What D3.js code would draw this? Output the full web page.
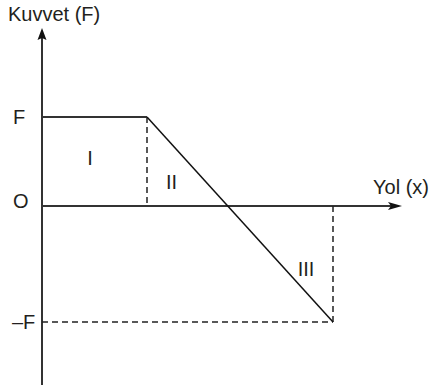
<!DOCTYPE html>
<html>
<head>
<meta charset="utf-8">
<script src="https://cdn.jsdelivr.net/npm/d3@7"></script>
<style>
  body { margin: 0; background: #fff; }
  svg text { font-family: "Liberation Sans", Arial, sans-serif; fill: #231f20; }
</style>
</head>
<body>
<div id="chart"></div>
<script>
// force levels (in units of F) and their labels on the vertical axis
const forceValues = [1, 0, -1];
const forceLabels = ["F", "O", "\u2013F"];

// the force-path: flat at F, then falling straight down to -F
const pathX = [0, 105, 291];
const pathF = [1, 1, -1];

// region names
const regionNames = ["I", "II", "III"];

let width = 431,
    height = 390;

const svg = d3.select("#chart")
  .append("svg")
  .attr("width", width)
  .attr("height", height);

let x = d3.scaleLinear()
  .domain([0, 360])
  .range([42, 402]);

// drawing is not symmetric around O, so the scale is piecewise
let y = d3.scaleLinear()
  .domain([-1, 0, 1])
  .range([322, 206, 117]);

const axisColor = "#333";
const yTop = 28, yBottom = 385;

// axes
svg.append("line")
  .attr("x1", x(0)).attr("x2", x(0))
  .attr("y1", yBottom).attr("y2", yTop + 6)
  .attr("stroke", axisColor).attr("stroke-width", 2);

svg.append("line")
  .attr("x1", x(0)).attr("x2", x(360) - 6)
  .attr("y1", y(0)).attr("y2", y(0))
  .attr("stroke", axisColor).attr("stroke-width", 2);

// arrow heads
svg.append("path")
  .attr("d", `M${x(0)},${yTop} L${x(0) + 4.5},${yTop + 12} L${x(0)},${yTop + 10} L${x(0) - 4.5},${yTop + 12} Z`)
  .attr("fill", "#111");

svg.append("path")
  .attr("d", `M${x(360)},${y(0)} L${x(360) - 14},${y(0) - 4} L${x(360) - 11},${y(0)} L${x(360) - 14},${y(0) + 4} Z`)
  .attr("fill", "#111");

// dashed guides
const guides = [
  [pathX[1], 1, pathX[1], 0],
  [pathX[2], 0, pathX[2], -1],
  [0, -1, pathX[2], -1]
];
svg.append("g")
  .selectAll("line")
  .data(guides)
  .join("line")
  .attr("x1", d => x(d[0])).attr("y1", d => y(d[1]))
  .attr("x2", d => x(d[2])).attr("y2", d => y(d[3]))
  .attr("stroke", "#222")
  .attr("stroke-width", 1.5)
  .attr("stroke-dasharray", "6,4");

// force line: flat part (thick) and falling part (thin)
const pts = pathX.map((v, i) => [v, pathF[i]]);
svg.append("path")
  .attr("d", d3.line().x(d => x(d[0])).y(d => y(d[1]))(pts.slice(0, 2)))
  .attr("fill", "none")
  .attr("stroke", axisColor)
  .attr("stroke-width", 2);

svg.append("path")
  .attr("d", d3.line().x(d => x(d[0])).y(d => y(d[1]))(pts.slice(1)))
  .attr("fill", "none")
  .attr("stroke", "#111")
  .attr("stroke-width", 1.5);

// tick labels on the force axis
svg.append("g")
  .selectAll("text")
  .data(forceValues)
  .join("text")
  .attr("x", (d, i) => i == 2 ? 12 : 13)
  .attr("y", d => y(d) + (d == 0 ? 2 : 7))
  .attr("font-size", 20)
  .text((d, i) => forceLabels[i]);

// region labels
const regionPos = [[48, 0.46], [129.5, 0.19], [264, -0.6]];
svg.append("g")
  .selectAll("text")
  .data(regionNames)
  .join("text")
  .attr("x", (d, i) => x(regionPos[i][0]))
  .attr("y", (d, i) => y(regionPos[i][1]))
  .attr("text-anchor", "middle")
  .attr("font-size", 20)
  .text(d => d);

// axis titles
svg.append("text")
  .attr("x", 8).attr("y", 21)
  .attr("font-size", 20)
  .text("Kuvvet (F)");

svg.append("text")
  .attr("x", 373).attr("y", 194)
  .attr("font-size", 20)
  .text("Yol (x)");
</script>
</body>
</html>
